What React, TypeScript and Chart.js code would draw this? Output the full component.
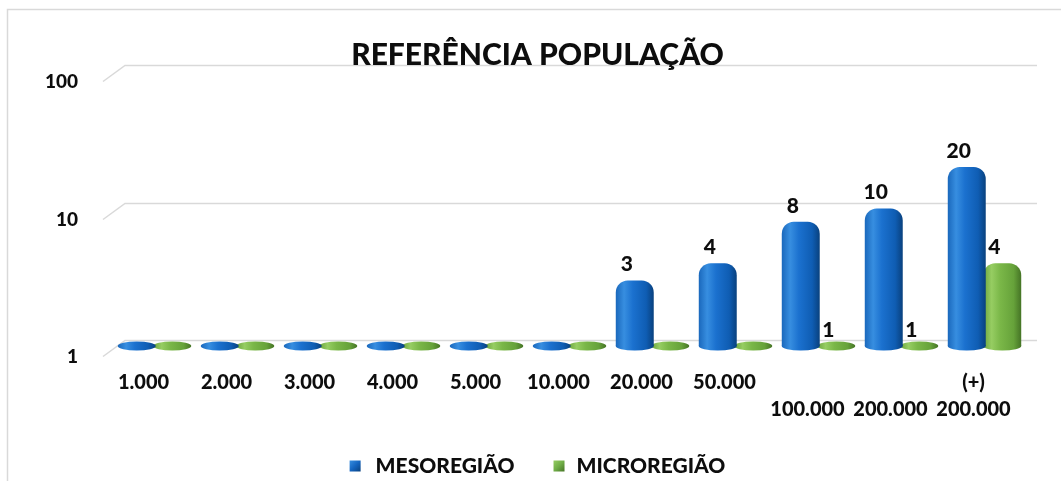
import { useEffect, useRef } from 'react';
import { Chart, registerables } from 'chart.js';

Chart.register(...registerables);

const chartTitle = 'REFERÊNCIA POPULAÇÃO';
const categories: string[][] = [
  ['1.000'], ['2.000'], ['3.000'], ['4.000'], ['5.000'], ['10.000'],
  ['20.000'], ['50.000'], ['', '100.000'], ['', '200.000'], ['(+)', '200.000'],
];
const seriesNames = ['MESOREGIÃO', 'MICROREGIÃO'];
const mesoregiao = [0, 0, 0, 0, 0, 0, 3, 4, 8, 10, 20];
const microregiao = [0, 0, 0, 0, 0, 0, 0, 0, 1, 1, 4];
const yTicks = [1, 10, 100];

const seriesValues = [mesoregiao, microregiao];
const baseColors = ['#1565c0', '#70ad47'];
const gradStops: [number, string][][] = [
  [[0, '#1a68bc'], [0.22, '#378ee0'], [0.45, '#1b71cf'], [0.8, '#0f5db3'], [1, '#09417e']],
  [[0, '#6ca43e'], [0.22, '#96cd62'], [0.45, '#7ab748'], [0.8, '#66a23a'], [1, '#457425']],
];
const FONT = 'Lato';
const W = '900';
const TEXT = '#0d0d0d';

function makeGrad(ctx: CanvasRenderingContext2D, x0: number, x1: number, d: number) {
  const g = ctx.createLinearGradient(x0, 0, x1, 0);
  gradStops[d].forEach(([o, c]) => g.addColorStop(o, c));
  return g;
}

const decor = {
  id: 'decor',
  beforeDraw(chart: any) {
    const { ctx, width, height } = chart;
    ctx.save();
    ctx.fillStyle = '#ffffff';
    ctx.fillRect(0, 0, width, height);
    ctx.strokeStyle = '#d9d9d9';
    ctx.lineWidth = 1.5;
    ctx.beginPath();
    ctx.moveTo(7.5, height);
    ctx.lineTo(7.5, 9.5);
    ctx.lineTo(width, 9.5);
    ctx.stroke();
    const ys = chart.scales.y;
    const { left, right } = chart.chartArea;
    yTicks.forEach((v) => {
      const back = Math.round(ys.getPixelForValue(v) - 6) + 0.5;
      ctx.beginPath();
      ctx.moveTo(left - 10, back + 16);
      ctx.lineTo(left + 12, back);
      ctx.lineTo(right + 11, back);
      ctx.stroke();
    });
    ctx.restore();
  },
  beforeDatasetsDraw(chart: any) {
    const ctx = chart.ctx;
    chart.data.datasets.forEach((_: any, d: number) => {
      const meta = chart.getDatasetMeta(d);
      meta.data.forEach((el: any) => {
        const g = makeGrad(ctx, el.x - el.width / 2, el.x + el.width / 2, d);
        el.options = Object.assign({}, el.options, { backgroundColor: g });
      });
    });
  },
  afterDatasetDraw(chart: any, args: any) {
    const ctx = chart.ctx;
    const d = args.index;
    ctx.save();
    args.meta.data.forEach((el: any) => {
      ctx.fillStyle = makeGrad(ctx, el.x - el.width / 2, el.x + el.width / 2, d);
      ctx.beginPath();
      ctx.ellipse(el.x, el.base, el.width / 2, 4.5, 0, 0, Math.PI * 2);
      ctx.fill();
    });
    ctx.restore();
  },
  afterDatasetsDraw(chart: any) {
    const ctx = chart.ctx;
    ctx.save();
    ctx.font = `${W} 21px ${FONT}`;
    ctx.fillStyle = TEXT;
    ctx.textAlign = 'center';
    ctx.textBaseline = 'middle';
    seriesValues.forEach((vals, d) => {
      const meta = chart.getDatasetMeta(d);
      meta.data.forEach((el: any, i: number) => {
        if (vals[i] > 0) ctx.fillText(String(vals[i]), el.x - 8, el.y - 16);
      });
    });
    ctx.restore();
  },
  afterDraw(chart: any) {
    const ctx = chart.ctx;
    ctx.save();
    ctx.font = `${W} 21px ${FONT}`;
    ctx.textBaseline = 'middle';
    ctx.textAlign = 'left';
    const box = 11, gaps = [15, 12], sep = 39;
    const w = seriesNames.map((s) => ctx.measureText(s).width);
    const total = box + gaps[0] + w[0] + sep + box + gaps[1] + w[1];
    let x = chart.width / 2 + 7 - total / 2;
    const cy = 466;
    seriesNames.forEach((s, d) => {
      const g = ctx.createLinearGradient(x, cy - box / 2, x + box, cy + box / 2);
      g.addColorStop(0, gradStops[d][1][1]);
      g.addColorStop(0.5, baseColors[d]);
      g.addColorStop(1, gradStops[d][4][1]);
      ctx.fillStyle = g;
      ctx.fillRect(x, cy - box / 2, box, box);
      x += box + gaps[d];
      ctx.fillStyle = TEXT;
      ctx.fillText(s, x, cy);
      x += w[d] + sep;
    });
    ctx.restore();
  },
};

export default function App() {
  const ref = useRef<HTMLCanvasElement>(null);
  useEffect(() => {
    const xFont = { family: FONT, size: 20, weight: W, lineHeight: '27px' };
    const yFont = { family: FONT, size: 19, weight: W };
    const chart = new Chart(ref.current!, {
      type: 'bar',
      data: {
        labels: categories,
        datasets: seriesValues.map((vals, d) => ({
          label: seriesNames[d],
          data: vals.map((v) => Math.max(v, yTicks[0])),
          backgroundColor: baseColors[d],
          borderRadius: { topLeft: 12, topRight: 12, bottomLeft: 0, bottomRight: 0 },
          borderSkipped: 'start',
          categoryPercentage: 0.855,
          barPercentage: 1.07,
        })),
      },
      options: {
        animation: false,
        responsive: true,
        maintainAspectRatio: false,
        layout: { padding: { top: 0, left: 14, right: 0, bottom: 35 } },
        plugins: {
          legend: { display: false },
          tooltip: { enabled: false },
          title: {
            display: true,
            text: chartTitle,
            color: TEXT,
            font: { family: FONT, size: 30, weight: W, lineHeight: 1 },
            padding: { top: 40, bottom: 1 },
          },
        },
        scales: {
          x: {
            type: 'category',
            offset: true,
            grid: { display: false, drawTicks: false },
            border: { display: false },
            ticks: {
              font: xFont,
              color: TEXT,
              padding: 23,
              labelOffset: -11,
              maxRotation: 0,
              autoSkip: false,
            },
            afterFit(s: any) { s.height = 100; },
          },
          y: {
            type: 'logarithmic',
            min: 1,
            max: 100,
            grid: { display: false, drawTicks: false },
            border: { display: false },
            ticks: {
              font: yFont,
              color: TEXT,
              padding: 35,
              labelOffset: 11,
              callback: (v: any) => String(v),
            },
            afterBuildTicks(s: any) { s.ticks = yTicks.map((v) => ({ value: v })); },
            afterFit(s: any) { s.width = 99; },
          },
          yRight: {
            type: 'linear',
            position: 'right',
            display: true,
            grid: { display: false, drawTicks: false },
            border: { display: false },
            ticks: { display: false },
            afterFit(s: any) { s.width = 35; },
          },
        },
      },
      plugins: [decor],
    } as any);
    return () => chart.destroy();
  }, []);
  return (
    <div style={{ position: 'fixed', left: 0, top: 0, width: 1061, height: 481, background: '#fff' }}>
      <canvas ref={ref} />
    </div>
  );
}
